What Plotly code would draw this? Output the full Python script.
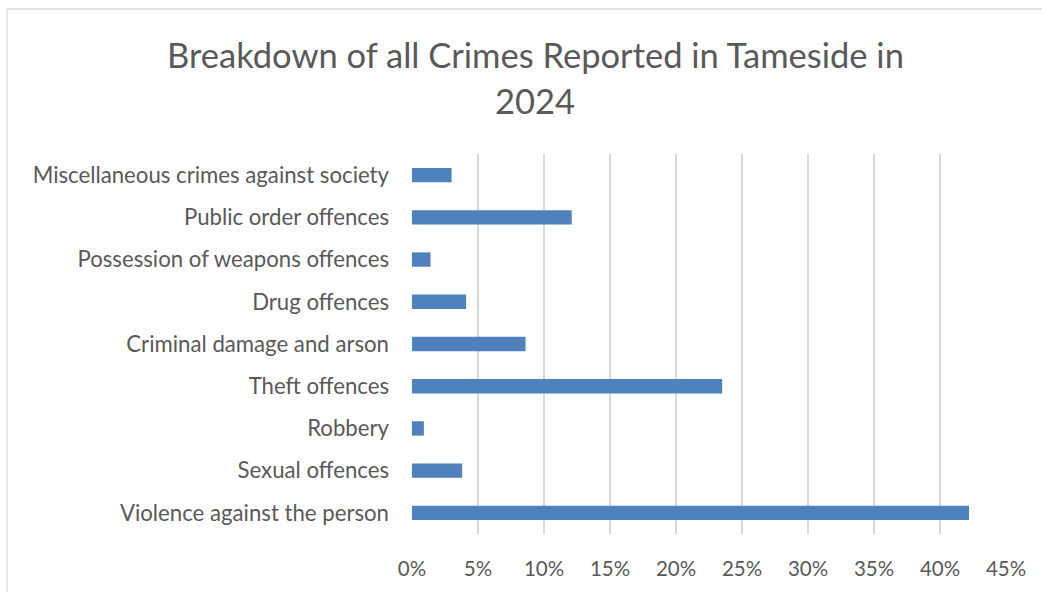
import plotly.graph_objects as go

categories = [
    "Violence against the person",
    "Sexual offences",
    "Robbery",
    "Theft offences",
    "Criminal damage and arson",
    "Drug offences",
    "Possession of weapons offences",
    "Public order offences",
    "Miscellaneous crimes against society",
]
shares = [0.422, 0.038, 0.009, 0.235, 0.086, 0.041, 0.014, 0.121, 0.030]
tick_vals = [0, 0.05, 0.10, 0.15, 0.20, 0.25, 0.30, 0.35, 0.40, 0.45]
tick_text = ["0%", "5%", "10%", "15%", "20%", "25%", "30%", "35%", "40%", "45%"]
title_lines = ["Breakdown of all Crimes Reported in Tameside in", "2024"]

FONT = "Lato"
GREY = "#595959"

fig = go.Figure(go.Bar(
    x=shares, y=categories, orientation="h",
    marker=dict(color="#4F81BD", line=dict(width=0)),
    width=0.34,
))

W, H = 1042, 592
L, R, T, B = 412, 36, 154, 58
pw, ph = W - L - R, H - T - B

def px_x(x):
    return (x - L) / pw

def px_y(y):
    return (H - B - y) / ph

fig.update_layout(
    width=W, height=H,
    margin=dict(l=L, r=R, t=T, b=B, autoexpand=False),
    paper_bgcolor="white", plot_bgcolor="white",
    showlegend=False,
    font=dict(family=FONT, color=GREY, size=20),
    xaxis=dict(range=[0, 0.45], tickvals=tick_vals, ticktext=tick_text,
               showgrid=True, gridcolor="#d9d9d9", gridwidth=1.5,
               zeroline=False, showline=False, ticks="", ticklabelstandoff=20,
               tickfont=dict(size=20.5, color=GREY, family=FONT)),
    yaxis=dict(range=[-0.5, len(categories) - 0.5], showgrid=False,
               zeroline=False, showline=False, ticks="", ticklabelstandoff=22,
               tickfont=dict(size=22.2, color=GREY, family=FONT)),
    shapes=[dict(type="rect", xref="paper", yref="paper",
                 x0=px_x(7), x1=px_x(1060), y0=px_y(610), y1=px_y(9),
                 line=dict(color="#d9d9d9", width=1.3), fillcolor="rgba(0,0,0,0)",
                 layer="below")],
    annotations=[
        dict(text=title_lines[0], xref="paper", yref="paper", x=px_x(535), y=px_y(55),
             xanchor="center", yanchor="middle", showarrow=False,
             font=dict(size=34.5, color=GREY, family=FONT)),
        dict(text=title_lines[1], xref="paper", yref="paper", x=px_x(535), y=px_y(100),
             xanchor="center", yanchor="middle", showarrow=False,
             font=dict(size=34.5, color=GREY, family=FONT)),
    ],
)

fig.write_html("out.html")
